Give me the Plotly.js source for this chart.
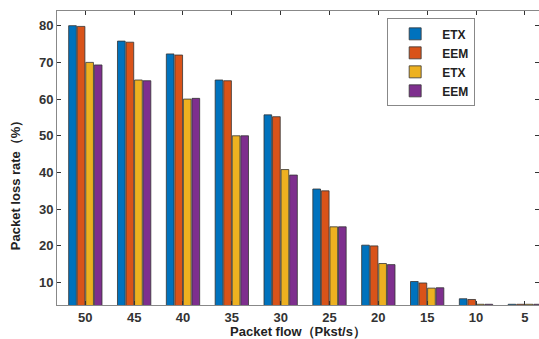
<!DOCTYPE html>
<html>
<head>
<meta charset="utf-8">
<script src="https://cdn.plot.ly/plotly-3.0.1.min.js"></script>
<style>html,body{margin:0;padding:0;background:#fff;}#chart{width:539px;height:339px;}</style>
</head>
<body>
<div id="chart"></div>
<script>
var categories = ['50','45','40','35','30','25','20','15','10','5'];
var seriesNames = ['ETX','EEM','ETX','EEM'];
var etx1 = [80.0, 75.8, 72.3, 65.2, 55.7, 35.5, 20.2, 10.3, 5.6, 4.1];
var eem1 = [79.8, 75.5, 72.0, 65.0, 55.2, 35.0, 20.0, 9.9, 5.4, 4.1];
var etx2 = [70.0, 65.2, 60.0, 50.0, 40.8, 25.2, 15.2, 8.5, 4.1, 4.1];
var eem2 = [69.3, 65.0, 60.2, 50.0, 39.3, 25.2, 14.9, 8.6, 4.1, 4.1];
var colors = ['#0072BD','#D95319','#EDB120','#7E2F8E'];

var series = [etx1, eem1, etx2, eem2];
var traces = series.map(function(vals, i){
  return {
    type: 'bar',
    name: seriesNames[i],
    x: categories,
    y: vals,
    marker: {color: colors[i], line: {color: '#333333', width: 0.8}},
    hoverinfo: 'none'
  };
});

var fontFam = 'Arial, "Liberation Sans", sans-serif';
var layout = {
  width: 539, height: 339,
  margin: {l: 57, r: 0, t: 11, b: 34},
  paper_bgcolor: '#ffffff', plot_bgcolor: '#ffffff',
  barmode: 'group',
  bargap: 0.3,
  bargroupgap: 0.1,
  showlegend: true,
  legend: {
    x: 0.685, y: 0.975, xanchor: 'left', yanchor: 'top',
    bgcolor: '#ffffff', bordercolor: '#888888', borderwidth: 1,
    font: {family: fontFam, size: 12, color: '#222222', weight: 'bold'},
    tracegroupgap: 0, itemwidth: 44
  },
  xaxis: {
    type: 'category',
    range: [-0.58, 9.29],
    showline: true, linecolor: '#888888', linewidth: 1, mirror: 'ticks',
    ticks: 'inside', ticklen: 4, tickcolor: '#333333',
    tickfont: {family: fontFam, size: 13, color: '#333333', weight: 'bold'},
    showgrid: false, zeroline: false,
    title: {text: 'Packet flow（Pkst/s）', font: {family: fontFam, size: 13, color: '#222222', weight: 'bold'}, standoff: 5}
  },
  yaxis: {
    range: [3.9, 84],
    dtick: 10, tick0: 0,
    showline: true, linecolor: '#888888', linewidth: 1, mirror: 'ticks',
    ticks: 'inside', ticklen: 4, tickcolor: '#333333',
    tickfont: {family: fontFam, size: 13, color: '#333333', weight: 'bold'},
    showgrid: false, zeroline: false
  },
  annotations: [{
    text: 'Packet loss rate（%）',
    xref: 'paper', yref: 'paper',
    x: -0.087, y: 0.418, xanchor: 'center', yanchor: 'middle',
    textangle: -90, showarrow: false,
    font: {family: fontFam, size: 13, color: '#222222', weight: 'bold'}
  }]
};

Plotly.newPlot('chart', traces, layout, {displayModeBar: false, staticPlot: true});
</script>
</body>
</html>
